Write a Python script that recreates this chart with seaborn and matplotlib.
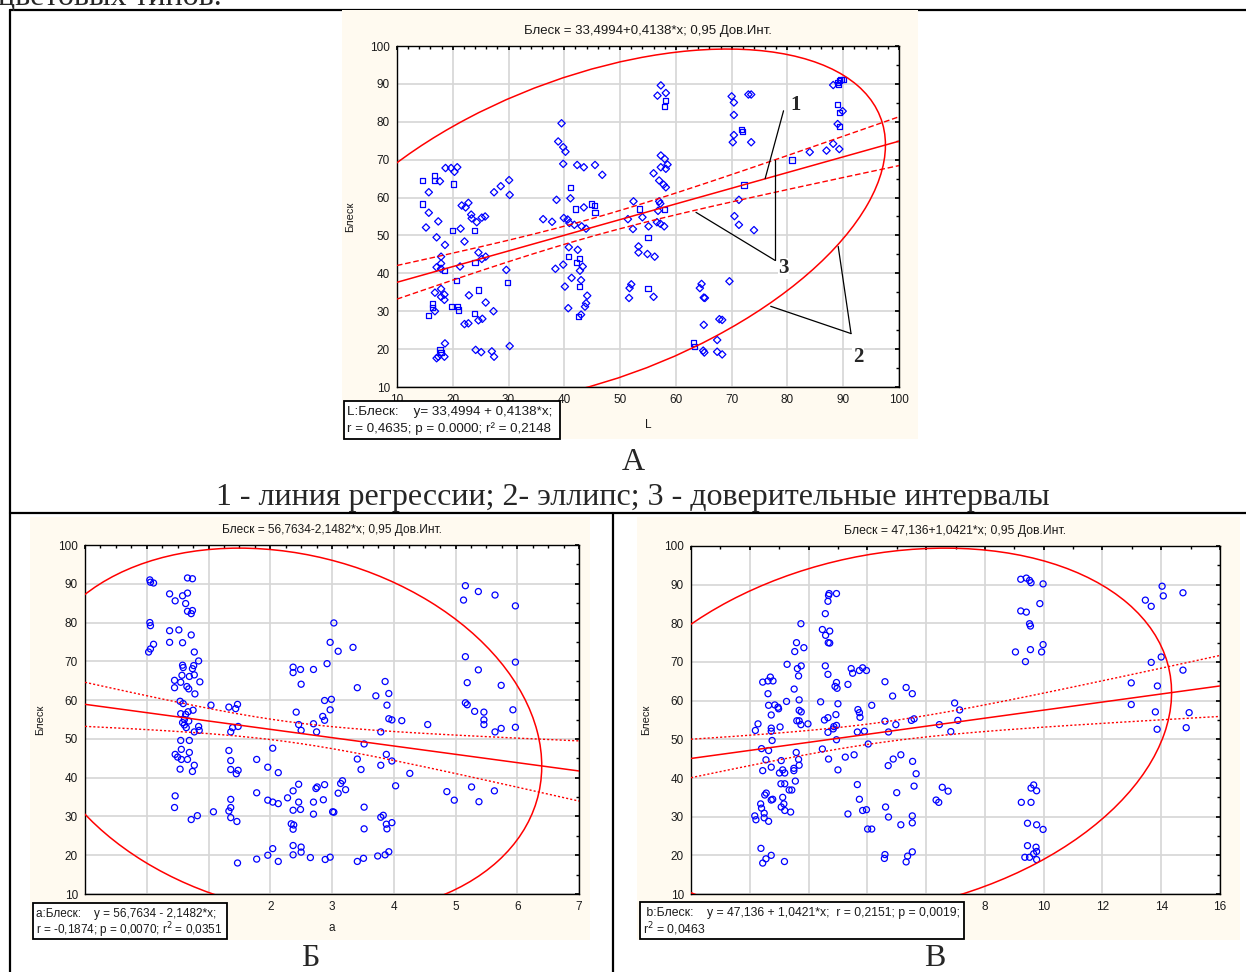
import numpy as np
import matplotlib
matplotlib.use("Agg")
import matplotlib.pyplot as plt
from matplotlib.patches import Ellipse, Rectangle
from matplotlib.lines import Line2D
from matplotlib.ticker import MultipleLocator, FuncFormatter
import pandas as pd
import seaborn as sns

# ---- panel A: Блеск vs L (two marker groups) ----
L_x = [14.6, 16.7, 16.7, 17.7, 18.7, 19.7, 20.3, 20.8, 20.1, 15.7, 14.6, 15.7, 17.4, 15.2, 19.9, 21.4,
       23.9, 17.1, 18.6, 22.1, 21.6, 22.3, 22.8, 23.3, 23.4, 24.3, 25.2, 25.8, 27.4, 28.6, 30.1, 30.2,
       17.9, 17.9, 17.1, 17.9, 18.5, 21.3, 20.6, 24.6, 25.2, 25.9, 24.0, 29.6, 29.8, 16.8, 17.9, 17.9,
       18.5, 18.5, 16.3, 16.3, 16.8, 15.7, 19.7, 20.9, 21.0, 22.9, 24.6, 25.9, 27.3, 23.9, 24.6, 25.3,
       22.1, 22.8, 18.6, 17.7, 17.9, 17.4, 18.5, 17.1, 24.1, 25.1, 27.0, 27.4, 30.2,
       39.5, 38.9, 39.8, 40.2, 39.8, 42.3, 43.5, 45.5, 46.8, 41.1, 41.1, 38.6, 42.0, 43.5, 44.8, 45.4,
       45.5, 36.2, 37.8, 39.9, 40.6, 40.9, 41.8, 43.1, 43.9, 40.8, 40.8, 42.4, 42.7, 42.2, 43.3, 42.8,
       38.4, 39.8, 41.3, 43.0, 42.7, 40.1, 44.1, 43.9, 43.7, 40.7, 43.0, 42.6,
       52.4, 53.5, 54.0, 51.4, 52.3, 55.1, 55.0, 53.3, 53.3, 54.9, 52.0, 51.7, 51.6, 55.0, 56.0, 56.0,
       56.2, 57.3, 56.7, 58.2, 58.2, 58.0, 57.3, 58.0, 58.5, 57.3, 58.2, 57.0, 57.8, 58.2, 57.0, 57.2,
       58.0, 56.8, 56.6, 57.2, 57.9,
       70.0, 70.4, 73.0, 73.5, 70.4, 70.4, 71.7, 72.0, 70.2, 73.5, 72.2, 71.3, 70.5, 71.3, 74.0, 69.6,
       64.6, 64.3, 65.0, 65.2, 65.0, 67.8, 68.3, 63.2, 63.4, 67.4, 64.9, 65.1, 67.4, 68.3,
       80.8, 84.0, 87.0, 88.2, 89.3, 88.2, 89.0, 89.3, 89.6, 90.0, 89.1, 89.0, 89.3, 89.9, 89.0, 89.3]
L_y = [64.6, 65.8, 64.6, 64.3, 67.8, 67.8, 66.8, 68.0, 63.6, 61.4, 58.3, 56.0, 53.7, 52.1, 51.4, 51.8,
       51.4, 49.5, 47.5, 48.4, 57.9, 57.4, 58.6, 55.5, 54.5, 53.5, 54.7, 55.0, 61.4, 63.0, 64.6, 60.7,
       44.4, 42.6, 41.6, 41.2, 40.7, 41.8, 38.1, 45.5, 43.8, 44.4, 42.9, 40.9, 37.5, 34.9, 35.9, 33.8,
       34.4, 33.0, 31.9, 31.0, 30.0, 28.9, 31.3, 31.3, 30.3, 34.2, 35.6, 32.3, 30.0, 29.3, 27.6, 28.0,
       26.6, 26.8, 21.5, 19.8, 19.0, 18.0, 18.0, 17.6, 19.8, 19.2, 19.4, 18.0, 20.8,
       79.6, 74.8, 73.3, 72.1, 68.9, 68.6, 68.0, 68.6, 66.0, 62.7, 59.8, 59.4, 57.0, 57.4, 58.3, 57.9,
       56.0, 54.3, 53.6, 54.6, 54.2, 53.3, 52.8, 52.4, 51.8, 46.9, 44.4, 46.2, 44.0, 42.8, 41.8, 40.7,
       41.2, 42.3, 38.8, 38.2, 36.5, 36.5, 34.1, 32.1, 31.2, 30.8, 29.1, 28.6,
       59.0, 57.0, 54.8, 54.3, 51.7, 52.4, 49.4, 47.1, 45.5, 45.1, 37.1, 36.1, 33.5, 36.1, 33.8, 66.4,
       44.4, 89.6, 86.9, 87.6, 85.6, 84.0, 71.1, 70.2, 68.7, 68.0, 67.6, 64.5, 63.4, 62.7, 59.0, 58.4,
       56.9, 56.5, 53.5, 53.1, 52.4,
       86.7, 85.1, 87.2, 87.2, 81.8, 76.5, 77.9, 77.5, 74.6, 74.6, 63.3, 59.4, 55.1, 52.8, 51.4, 37.9,
       37.2, 36.1, 33.6, 33.5, 26.4, 27.9, 27.7, 21.6, 20.6, 22.4, 19.6, 19.1, 19.3, 18.6,
       69.9, 72.0, 72.4, 74.2, 72.8, 89.7, 90.3, 90.9, 91.2, 91.1, 89.9, 84.5, 82.5, 82.8, 79.4, 78.7]
# marker group of each point (s = square, d = diamond)
L_mark = list("sssd" "dddd" "s" "d" "s" "ddd" "s" "d" "s" "ddd" "dddddddd" "dddd" "ddddsds"
              "dddsds" "ddddd" "ssds" "sssdsddsdd" "dd" "dssddd" "ddddd"
              "ddddddddd" "sddsdsss" "dddddddd" "dsdssdddd" "ddsdddddds"
              "dsddddsddddddsdd" "ddddssdddddddddd" "sdddd"
              "ddddddssddsddddd" "dddddddssddddd" "sdddddsssssssdds")

# ---- panel Б: Блеск vs a ----
a_x = [0.05, 0.06, 0.11, 0.05, 0.06, 0.03, 0.06, 0.11,
       0.37, 0.46, 0.58, 0.66, 0.66, 0.74, 0.63, 0.66, 0.74, 0.72, 0.37, 0.52, 0.72, 0.37, 0.58, 0.77,
       0.84, 0.58, 0.59, 0.76, 0.74, 0.57, 0.69, 0.77, 0.45, 0.55, 0.45, 0.65, 0.68, 0.86, 0.78, 0.54,
       0.59, 0.55, 0.63, 0.67, 0.75, 0.61, 0.68, 0.58, 0.61, 0.64, 0.77, 0.84, 0.85, 0.55, 0.69, 0.56,
       0.46, 0.50, 0.56, 0.66, 0.69, 0.54, 0.77, 0.74, 0.46, 0.45, 0.72, 0.82,
       1.04, 1.33, 1.44, 1.47, 1.39, 1.36, 1.48, 1.33, 1.36, 1.36, 1.48, 1.45, 1.36, 1.36, 1.33, 1.08,
       1.36, 1.46, 1.47,
       1.78, 1.96, 2.13, 2.04, 1.78, 1.96, 2.04, 2.13, 1.78, 1.96, 2.04, 2.13,
       2.37, 2.37, 2.49, 2.70, 2.92, 2.97, 3.03, 3.10, 2.50, 2.42, 2.46, 2.50, 2.70, 2.75, 2.88, 2.99,
       2.97, 2.85, 2.88, 2.37, 2.46, 2.28, 2.37, 2.49, 2.46, 2.70, 2.70, 2.76, 2.74, 2.88, 2.86, 3.03,
       2.34, 2.38, 2.37, 2.37, 2.50, 2.50, 2.37, 2.65, 2.89, 2.97,
       3.34, 3.41, 3.71, 3.86, 3.92, 3.89, 3.92, 3.97, 4.13, 4.55, 3.79, 3.52, 3.41, 3.47, 3.79, 3.88,
       3.97, 4.26, 4.03, 3.14, 3.17, 3.22, 3.10, 3.01, 3.52, 3.52, 3.79, 3.83, 3.88, 3.89, 3.97, 3.41,
       3.51, 3.74, 3.86, 3.92,
       5.16, 5.13, 5.37, 5.64, 5.97, 5.16, 5.37, 5.97, 5.19, 5.74, 5.16, 5.19, 5.31, 5.46, 5.46, 5.46,
       5.93, 5.74, 5.64, 5.97, 4.86, 4.98, 5.26, 5.38, 5.63]
a_y = [91.0, 90.4, 90.2, 80.0, 79.2, 72.4, 73.2, 74.4,
       87.4, 85.6, 86.9, 87.6, 91.5, 91.3, 84.9, 82.9, 83.1, 82.3, 77.9, 78.1, 76.8, 74.9, 74.8, 72.4,
       70.1, 69.0, 68.4, 68.9, 68.1, 66.4, 66.1, 66.5, 65.1, 64.6, 63.2, 63.5, 62.9, 64.7, 61.6, 59.7,
       59.1, 56.5, 56.3, 57.0, 57.4, 55.0, 54.6, 54.2, 53.6, 52.9, 51.8, 53.2, 52.2, 49.6, 49.6, 47.3,
       46.0, 45.3, 44.7, 44.7, 46.5, 42.2, 43.2, 41.6, 35.3, 32.3, 29.2, 30.2,
       58.7, 58.2, 57.8, 58.9, 52.9, 51.8, 53.2, 47.0, 44.4, 42.1, 41.9, 41.0, 34.4, 32.3, 31.4, 31.2,
       29.7, 28.7, 18.0,
       44.7, 42.7, 41.3, 47.6, 36.1, 34.2, 33.7, 33.3, 19.0, 20.0, 21.7, 18.4,
       68.5, 67.1, 67.9, 67.9, 69.4, 74.9, 79.9, 72.6, 64.1, 56.9, 53.7, 52.2, 53.9, 51.8, 59.9, 60.2,
       57.5, 55.8, 54.8, 36.6, 38.3, 34.8, 31.6, 31.8, 33.7, 33.7, 30.6, 37.6, 37.2, 38.2, 34.3, 31.1,
       28.1, 27.8, 26.7, 22.5, 22.1, 20.8, 20.1, 19.4, 18.9, 19.5,
       73.6, 63.2, 61.1, 64.8, 61.7, 58.7, 55.2, 54.9, 54.7, 53.7, 51.8, 48.7, 44.8, 42.1, 43.2, 46.0,
       44.3, 41.1, 37.9, 38.5, 39.2, 36.9, 36.0, 31.2, 32.4, 26.8, 29.8, 30.3, 28.0, 26.8, 28.4, 18.4,
       19.2, 19.8, 20.1, 20.9,
       89.5, 85.8, 88.0, 87.1, 84.3, 71.2, 67.8, 69.8, 64.5, 63.8, 59.3, 58.8, 57.1, 56.9, 54.9, 53.7,
       57.5, 52.7, 51.8, 53.0, 36.4, 34.2, 37.6, 33.8, 36.6]

# ---- panel В: Блеск vs b ----
b_x = [0.17, 0.21, 0.37, 0.40, 0.49, 0.49, 0.64, 0.51, 0.56, 0.73, 0.78, 0.38, 0.44, 0.55, 0.73, 1.18,
       0.19, 0.28, 0.40, 0.55, 0.44, 0.73, 0.64, 0.73, 0.73, 0.76, 1.03, 0.44, 0.62, 0.70, 0.79, 0.62,
       0.64, 0.73, 0.85, 0.96, 0.98,
       1.07, 1.01, 1.12, 1.19, 1.06, 1.12, 1.16, 1.07, 1.19, 1.39, 1.19, 1.34, 1.43, 1.25, 1.27, 1.51,
       1.68, 1.50, 1.50, 1.55, 1.68, 1.66, 1.58, 1.53, 1.59, 1.84, 1.74, 1.62, 1.75, 1.66, 1.68, 1.75,
       1.60, 1.68, 1.74, 1.98,
       2.57, 2.66, 2.68, 2.70, 2.95, 2.47, 2.58, 2.72, 2.67, 2.72, 2.57, 2.66, 2.90, 2.95, 2.97, 2.41,
       2.54, 2.66, 2.86, 2.84, 2.66, 2.95, 2.93, 3.00, 2.95, 2.47, 2.68, 3.00,
       3.34, 3.45, 3.50, 3.73, 3.84, 3.97, 3.68, 3.73, 3.75, 3.66, 3.90, 3.25, 3.55, 4.03, 4.15, 3.66,
       3.73, 3.84, 3.97, 3.34, 4.01, 4.15,
       4.60, 4.86, 5.32, 5.53, 4.60, 4.72, 4.97, 5.50, 5.59, 4.71, 4.88, 5.14, 5.54, 5.66, 5.59, 5.00,
       4.62, 4.72, 5.14, 5.53, 5.53, 4.60, 4.58, 5.32, 5.37, 5.53,
       6.34, 6.43, 6.55, 6.75, 6.45, 6.84, 6.97, 7.14, 7.08,
       9.22, 9.41, 9.52, 9.57, 9.98, 9.22, 9.41, 9.87, 9.52, 9.55, 9.04, 9.38, 9.55, 9.98, 9.93,
       9.24, 9.57, 9.66, 9.57, 9.76, 9.45, 9.76, 9.98, 9.45, 9.74, 9.76, 9.66, 9.52, 9.36, 9.76,
       13.46, 13.66, 14.03, 14.07, 14.74, 13.66, 14.00, 12.98, 13.87, 14.74, 12.98, 13.80, 13.86,
       14.95, 14.85]
b_y = [30.2, 29.2, 33.3, 32.2, 30.9, 29.7, 28.8, 35.6, 36.1, 34.3, 34.5, 21.8, 18.0, 19.1, 20.0, 18.4,
       52.3, 54.0, 47.6, 44.7, 41.9, 42.8, 47.1, 52.1, 52.9, 49.7, 53.2, 64.8, 65.1, 66.1, 65.1, 61.8,
       58.8, 56.3, 58.9, 58.3, 57.9,
       44.5, 41.3, 42.1, 41.3, 38.5, 35.0, 33.3, 32.5, 31.6, 31.2, 38.5, 36.9, 36.9, 59.8, 69.4, 63.0,
       60.2, 41.9, 42.5, 39.2, 43.3, 44.8, 46.6, 72.7, 75.0, 73.7, 79.9, 68.3, 69.0, 66.4, 57.5, 57.1,
       54.8, 54.8, 53.8, 54.0,
       82.5, 85.7, 87.2, 87.7, 87.7, 78.4, 76.9, 78.0, 75.0, 74.9, 69.0, 66.8, 63.7, 64.7, 63.2, 59.7,
       55.0, 55.6, 53.3, 52.7, 51.8, 53.6, 56.4, 59.2, 49.9, 47.5, 44.9, 42.1,
       64.2, 68.3, 67.1, 67.8, 68.5, 67.8, 57.7, 56.9, 55.7, 51.9, 52.1, 45.4, 46.0, 48.8, 58.8, 38.3,
       34.5, 31.6, 31.8, 30.7, 26.8, 26.8,
       64.9, 61.2, 63.4, 61.8, 54.7, 51.9, 53.8, 54.9, 55.3, 43.2, 44.9, 46.0, 44.3, 41.1, 37.9, 36.2,
       32.5, 29.9, 27.9, 30.2, 28.4, 20.2, 19.2, 18.3, 19.8, 20.9,
       34.3, 33.7, 37.6, 36.6, 53.8, 52.0, 59.4, 57.6, 54.9,
       91.4, 91.7, 91.1, 90.5, 90.2, 83.2, 82.9, 85.1, 79.9, 79.3, 72.6, 70.1, 73.2, 74.5, 72.6,
       33.7, 33.7, 38.2, 37.4, 36.7, 28.3, 27.9, 26.7, 22.5, 22.1, 21.0, 20.4, 19.5, 19.5, 18.9,
       86.0, 84.4, 89.6, 87.1, 87.9, 69.9, 71.3, 64.6, 63.8, 67.9, 59.0, 57.1, 52.6, 56.9, 53.0]

# regression / ellipse statistics shown in the panels
L_stats = dict(b0=33.4994, b1=0.4138, r=0.4635, mx=44.7, sx=21.6, n=208)
a_stats = dict(b0=56.7634, b1=-2.1482, r=-0.1874, mx=2.27, sx=1.686, n=208)
b_stats = dict(b0=47.136, b1=1.0421, r=0.2151, mx=4.53, sx=4.013, n=208)

W, H = 1246, 972
CREAM = "#fffaf0"
BLUE = "#0000ff"
RED = "#ff0000"


def fx(px):
    return px / W


def fy(py):
    return 1 - py / H


def ax_rect(left, top, right, bottom):
    return [fx(left), fy(bottom), (right - left) / W, (bottom - top) / H]


sns.set_theme(style="white")
plt.rcParams["font.family"] = ["Liberation Sans", "DejaVu Sans"]
plt.rcParams["axes.unicode_minus"] = False

fig = plt.figure(figsize=(12.46, 9.72), dpi=100)
fig.patch.set_facecolor("white")

# table borders of the document page
for (x0, y0, x1, y1) in [(10, 10, 1246, 10), (10, 10, 10, 972), (10, 513, 1246, 513),
                         (613, 513, 613, 972)]:
    fig.add_artist(Line2D([fx(x0), fx(x1)], [fy(y0), fy(y1)], color="black", lw=1.6,
                          zorder=-3, transform=fig.transFigure))

# picture backgrounds
for (x0, y0, x1, y1) in [(342, 10, 918, 439), (30, 517, 590, 940), (637, 517, 1240, 940)]:
    fig.add_artist(Rectangle((fx(x0), fy(y1)), (x1 - x0) / W, (y1 - y0) / H, facecolor=CREAM,
                             edgecolor="none", zorder=-2, transform=fig.transFigure))


def panel(ax, x, y, st, xlim, xmaj, xmin_, ci_ls, title, title_fs, xlabel, hide_below=None,
          marks=None):
    df = pd.DataFrame({"x": x, "y": y})
    if marks is not None:
        df["m"] = marks
        sns.scatterplot(data=df, x="x", y="y", style="m", markers={"s": "s", "d": "D"},
                        s=14, ax=ax, legend=False, zorder=2)
    else:
        sns.scatterplot(data=df, x="x", y="y", marker="o", s=19, ax=ax, legend=False, zorder=2)
    pts = ax.collections[-1]
    pts.set_facecolor("none")
    pts.set_edgecolor(BLUE)
    pts.set_linewidth(0.9)

    # derived statistics
    sy = st["b1"] * st["sx"] / st["r"]
    my = st["b0"] + st["b1"] * st["mx"]
    n = st["n"]
    xs = np.linspace(xlim[0], xlim[1], 300)
    yhat = st["b0"] + st["b1"] * xs
    se = sy * np.sqrt((1 - st["r"] ** 2) * (n - 1) / (n - 2))
    hw = 1.97 * se * np.sqrt(1 / n + (xs - st["mx"]) ** 2 / ((n - 1) * st["sx"] ** 2))
    ax.plot(xs, yhat, color=RED, lw=1.1, zorder=3)
    ax.plot(xs, yhat + hw, color=RED, lw=1.0, ls=ci_ls, zorder=3)
    ax.plot(xs, yhat - hw, color=RED, lw=1.0, ls=ci_ls, zorder=3)

    # 95% data ellipse
    cov = np.array([[st["sx"] ** 2, st["r"] * st["sx"] * sy],
                    [st["r"] * st["sx"] * sy, sy ** 2]])
    vals, vecs = np.linalg.eigh(cov)
    k = np.sqrt(5.991)
    ang = np.degrees(np.arctan2(vecs[1, 1], vecs[0, 1]))
    ax.add_patch(Ellipse((st["mx"], my), 2 * k * np.sqrt(vals[1]), 2 * k * np.sqrt(vals[0]),
                         angle=ang, fill=False, edgecolor=RED, lw=1.1, zorder=3))

    ax.set_xlim(*xlim)
    ax.set_ylim(10, 100)
    ax.xaxis.set_major_locator(MultipleLocator(xmaj))
    ax.xaxis.set_minor_locator(MultipleLocator(xmin_))
    ax.yaxis.set_major_locator(MultipleLocator(10))
    ax.yaxis.set_minor_locator(MultipleLocator(5))
    if hide_below is not None:
        # these tick labels sit under the statistics box
        ax.xaxis.set_major_formatter(FuncFormatter(
            lambda v, p: "" if v < hide_below else f"{v:g}"))
    ax.grid(True, which="major", color="#d6d6d6", lw=1.2)
    ax.set_axisbelow(True)
    ax.set_facecolor("white")
    for sp in ax.spines.values():
        sp.set_color("black")
        sp.set_linewidth(1.0)
    ax.tick_params(which="both", direction="in", top=True, right=True, color="black",
                   labelsize=8.5, labelcolor="#1a1a1a", pad=5)
    ax.tick_params(which="major", length=3)
    ax.tick_params(which="minor", length=2)
    ax.set_title(title, fontsize=title_fs, pad=9, color="#1a1a1a")
    ax.set_xlabel(xlabel, fontsize=8.5, color="#1a1a1a")
    ax.set_ylabel("Блеск", fontsize=8, color="#1a1a1a")


axA = fig.add_axes(ax_rect(397, 46, 899, 387))
panel(axA, L_x, L_y, L_stats, (10, 100), 10, 2, (0, (4, 2)),
      "Блеск = 33,4994+0,4138*x; 0,95 Дов.Инт.", 9.5, "L", marks=L_mark)
axA.yaxis.set_label_coords(-42 / 502, 0.5)
axA.xaxis.set_label_coords(0.5, -32 / 341)

axB = fig.add_axes(ax_rect(85, 545, 579, 894))
panel(axB, a_x, a_y, a_stats, (-1, 7), 1, 0.25, (0, (1.5, 1.5)),
      "Блеск = 56,7634-2,1482*x; 0,95 Дов.Инт.", 8.6, "a", hide_below=1.5)
axB.yaxis.set_label_coords(-40 / 494, 0.5)
axB.xaxis.set_label_coords(0.5, -28 / 349)

axC = fig.add_axes(ax_rect(691, 546, 1220, 894))
panel(axC, b_x, b_y, b_stats, (-2, 16), 2, 1, (0, (1.5, 1.5)),
      "Блеск = 47,136+1,0421*x; 0,95 Дов.Инт.", 8.8, "", hide_below=7)
axC.yaxis.set_label_coords(-40 / 529, 0.5)

# callouts in panel A
for (xa, ya) in [((79.3, 76.0), (82.9, 65.0)), ((77.8, 77.8), (69.8, 43.4)),
                 ((63.6, 77.8), (56.1, 43.4)), ((77.0, 91.4), (31.3, 24.1)),
                 ((89.1, 91.4), (47.1, 24.1))]:
    axA.plot(xa, ya, color="black", lw=0.9, zorder=4)
for (tx, ty, lab) in [(81.5, 84.4, "1"), (79.3, 41.3, "3"), (92.7, 17.8, "2")]:
    axA.text(tx, ty, lab, fontsize=15, fontweight="bold", family=["Liberation Serif"],
             ha="center", va="center", zorder=5,
             bbox=dict(facecolor="white", edgecolor="none", pad=0.5))

# statistic boxes
boxes = [((344, 401, 560, 439), 9.6, ["L:Блеск:    y= 33,4994 + 0,4138*x;",
                                      "r = 0,4635; p = 0.0000; r² = 0,2148"]),
         ((33, 903, 227, 939), 8.5, ["a:Блеск:    y = 56,7634 - 2,1482*x;",
                                     "r = -0,1874; p = 0,0070; r$^2$ = 0,0351"]),
         ((640, 902, 964, 939), 8.8, [" b:Блеск:    y = 47,136 + 1,0421*x;  r = 0,2151; p = 0,0019;",
                                      "r$^2$ = 0,0463"])]
for (x0, y0, x1, y1), fs, lines in boxes:
    fig.add_artist(Rectangle((fx(x0), fy(y1)), (x1 - x0) / W, (y1 - y0) / H, facecolor="white",
                             edgecolor="black", lw=1.3, zorder=6, transform=fig.transFigure))
    for i, line in enumerate(lines):
        fig.text(fx(x0 + 3), fy(y0 + 11 + 16.5 * i), line, fontsize=fs, color="#1a1a1a",
                 va="center", ha="left", zorder=7)

# document text
serif = ["Liberation Serif", "DejaVu Serif"]
fig.text(fx(-2), fy(5), "цветовых типов.", family=serif, fontsize=23, va="baseline", ha="left")
fig.text(fx(633), fy(470), "А", family=serif, fontsize=23, va="baseline", ha="center")
fig.text(fx(633), fy(505), "1 - линия регрессии; 2- эллипс; 3 - доверительные интервалы",
         family=serif, fontsize=23, va="baseline", ha="center")
fig.text(fx(310), fy(966), "Б", family=serif, fontsize=23, va="baseline", ha="center")
fig.text(fx(935), fy(966), "В", family=serif, fontsize=23, va="baseline", ha="center")

fig.savefig("out.png", dpi=100)
